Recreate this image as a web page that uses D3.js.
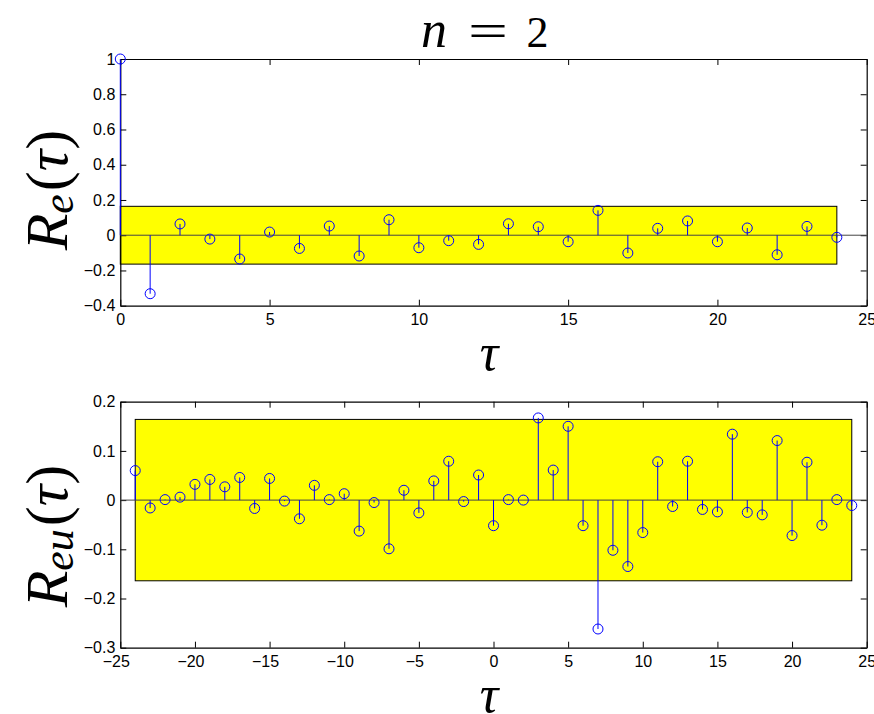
<!DOCTYPE html>
<html>
<head>
<meta charset="utf-8">
<script src="https://cdn.jsdelivr.net/npm/d3@7"></script>
<style>
  body { margin: 0; background: #fff; }
  svg { display: block; }
</style>
</head>
<body>
<svg id="fig" width="874" height="714"></svg>
<script>
// Residual autocorrelation R_e(tau), lags 0..24
const lagsE = [0, 1, 2, 3, 4, 5, 6, 7, 8, 9, 10, 11, 12, 13, 14, 15, 16, 17, 18, 19, 20, 21, 22, 23, 24];
const valuesE = [1, -0.332, 0.064, -0.022, -0.135, 0.018, -0.075, 0.052, -0.118, 0.088,
                 -0.071, -0.031, -0.052, 0.065, 0.048, -0.037, 0.141, -0.101, 0.039, 0.081,
                 -0.037, 0.041, -0.111, 0.050, -0.012];

// Cross-correlation residual/input R_eu(tau), lags -24..24
const lagsEU = [-24, -23, -22, -21, -20, -19, -18, -17, -16, -15, -14, -13, -12, -11, -10, -9, -8, -7,
                -6, -5, -4, -3, -2, -1, 0, 1, 2, 3, 4, 5, 6, 7, 8, 9, 10, 11, 12, 13, 14, 15, 16, 17,
                18, 19, 20, 21, 22, 23, 24];
const valuesEU = [0.060, -0.016, 0.001, 0.006, 0.032, 0.042, 0.027, 0.046, -0.017, 0.044,
                  -0.002, -0.038, 0.030, 0.001, 0.013, -0.063, -0.005, -0.099, 0.020, -0.026,
                  0.039, 0.079, -0.003, 0.051, -0.052,
                  0.001, 0.000, 0.167, 0.061, 0.150, -0.052, -0.262, -0.102, -0.135, -0.066,
                  0.078, -0.013, 0.079, -0.019, -0.024, 0.134, -0.025, -0.030, 0.121, -0.072,
                  0.077, -0.051, 0.001, -0.011];

// 95% confidence bound and the lag span it covers
const confBound = 0.164;
const bandLagsE = [0, 24];
const bandLagsEU = [-24, 24];

// Axis ticks and their labels
const xTicksE = [0, 5, 10, 15, 20, 25];
const xTickLabelsE = ["0", "5", "10", "15", "20", "25"];
const yTicksE = [-0.4, -0.2, 0, 0.2, 0.4, 0.6, 0.8, 1];
const yTickLabelsE = ["\u22120.4", "\u22120.2", "0", "0.2", "0.4", "0.6", "0.8", "1"];
const xTicksEU = [-25, -20, -15, -10, -5, 0, 5, 10, 15, 20, 25];
const xTickLabelsEU = ["\u221225", "\u221220", "\u221215", "\u221210", "\u22125", "0", "5", "10", "15", "20", "25"];
const yTicksEU = [-0.3, -0.2, -0.1, 0, 0.1, 0.2];
const yTickLabelsEU = ["\u22120.3", "\u22120.2", "\u22120.1", "0", "0.1", "0.2"];

const svg = d3.select("#fig");
const tickFont = "'Liberation Sans', Arial, Helvetica, sans-serif";
const mathFont = "'Liberation Serif', 'Times New Roman', serif";

function drawPanel(p) {
  const x = d3.scaleLinear().domain(p.xDomain).range([120.3, 866.7]);
  const y = d3.scaleLinear().domain(p.yDomain).range([p.bottom, p.top]);
  const g = svg.append("g");

  // confidence band
  g.append("rect")
    .attr("x", x(p.band[0]))
    .attr("y", y(p.bound))
    .attr("width", x(p.band[1]) - x(p.band[0]))
    .attr("height", y(-p.bound) - y(p.bound))
    .attr("fill", "#ffff00")
    .attr("stroke", "#000")
    .attr("stroke-width", 1);

  // axes frame with inward ticks
  const styleAxis = sel => {
    sel.attr("font-family", tickFont).attr("font-size", 16);
    sel.selectAll("path.domain").attr("stroke", "#000").attr("stroke-width", 1.2);
    sel.selectAll(".tick line").attr("stroke", "#000").attr("stroke-width", 1);
    sel.selectAll("text")
      .style("font-family", tickFont).style("font-size", "16px").attr("fill", "#000");
  };
  g.append("g").attr("transform", `translate(0,${p.bottom})`)
    .call(d3.axisBottom(x).tickValues(p.xTicks).tickSizeInner(-6).tickSizeOuter(0).tickPadding(8)
      .tickFormat((d, i) => p.xLabels[i]))
    .call(styleAxis)
    .call(s => s.selectAll("text").attr("dx", (d, i) => p.xLabels[i].startsWith("\u2212") ? -4.5 : 0));
  g.append("g").attr("transform", `translate(0,${p.top})`)
    .call(d3.axisTop(x).tickValues(p.xTicks).tickSizeInner(-6).tickSizeOuter(0).tickFormat(""))
    .call(styleAxis);
  g.append("g").attr("transform", `translate(120.3,0)`)
    .call(d3.axisLeft(y).tickValues(p.yTicks).tickSizeInner(-6).tickSizeOuter(0).tickPadding(5)
      .tickFormat((d, i) => p.yLabels[i]))
    .call(styleAxis);
  g.append("g").attr("transform", `translate(866.7,0)`)
    .call(d3.axisRight(y).tickValues(p.yTicks).tickSizeInner(-6).tickSizeOuter(0).tickFormat(""))
    .call(styleAxis);

  // stem baseline
  g.append("line")
    .attr("x1", x(p.xDomain[0])).attr("x2", x(p.xDomain[1]))
    .attr("y1", y(0)).attr("y2", y(0))
    .attr("stroke", "#444").attr("stroke-width", 1);

  const pts = p.lags.map((l, i) => ({ lag: l, v: p.values[i] }));
  // stems
  g.append("g").selectAll("line").data(pts).join("line")
    .attr("x1", d => x(d.lag)).attr("x2", d => x(d.lag))
    .attr("y1", y(0)).attr("y2", d => y(d.v))
    .attr("stroke", "#0000ff").attr("stroke-width", 1);
  // markers
  g.append("g").selectAll("circle").data(pts).join("circle")
    .attr("cx", d => x(d.lag)).attr("cy", d => y(d.v)).attr("r", 5)
    .attr("fill", "none").attr("stroke", "#0000ff").attr("stroke-width", 1);

  // y label: rotated math text
  const yl = g.append("text")
    .attr("transform", `translate(67,${p.ylabelY}) rotate(-90)`)
    .attr("text-anchor", "middle")
    .attr("font-family", mathFont).attr("font-size", 60).attr("fill", "#000");
  yl.append("tspan").attr("font-style", "italic").text("R");
  yl.append("tspan").attr("font-style", "italic").attr("font-size", 44).attr("dy", 6).text(p.sub);
  yl.append("tspan").attr("dy", -6).attr("dx", 3).text("(");
  yl.append("tspan").attr("font-style", "italic").text("\u03c4");
  yl.append("tspan").text(")");

  // x label
  g.append("text")
    .attr("x", 489).attr("y", p.bottom + 64)
    .attr("text-anchor", "middle")
    .attr("font-family", mathFont).attr("font-style", "italic").attr("font-size", 52)
    .attr("fill", "#000")
    .text("\u03c4");
}

drawPanel({
  xDomain: [0, 25], yDomain: [-0.4, 1], top: 59, bottom: 305.7,
  lags: lagsE, values: valuesE, bound: confBound, band: bandLagsE,
  xTicks: xTicksE, xLabels: xTickLabelsE, yTicks: yTicksE, yLabels: yTickLabelsE,
  sub: "e", ylabelY: 190
});
drawPanel({
  xDomain: [-25, 25], yDomain: [-0.3, 0.2], top: 401.7, bottom: 647.7,
  lags: lagsEU, values: valuesEU, bound: confBound, band: bandLagsEU,
  xTicks: xTicksEU, xLabels: xTickLabelsEU, yTicks: yTicksEU, yLabels: yTickLabelsEU,
  sub: "eu", ylabelY: 536
});

// title: n = 2
const title = svg.append("g").attr("font-family", mathFont).attr("fill", "#000");
title.append("text").attr("x", 434).attr("y", 47).attr("text-anchor", "middle")
  .attr("font-size", 52).attr("font-style", "italic").text("n");
title.append("text").attr("x", 488).attr("y", 47).attr("text-anchor", "middle").attr("font-size", 48)
  .attr("textLength", 40).attr("lengthAdjust", "spacingAndGlyphs").text("=");
title.append("text").attr("x", 537.5).attr("y", 47).attr("text-anchor", "middle")
  .attr("font-size", 44).text("2");
</script>
</body>
</html>
